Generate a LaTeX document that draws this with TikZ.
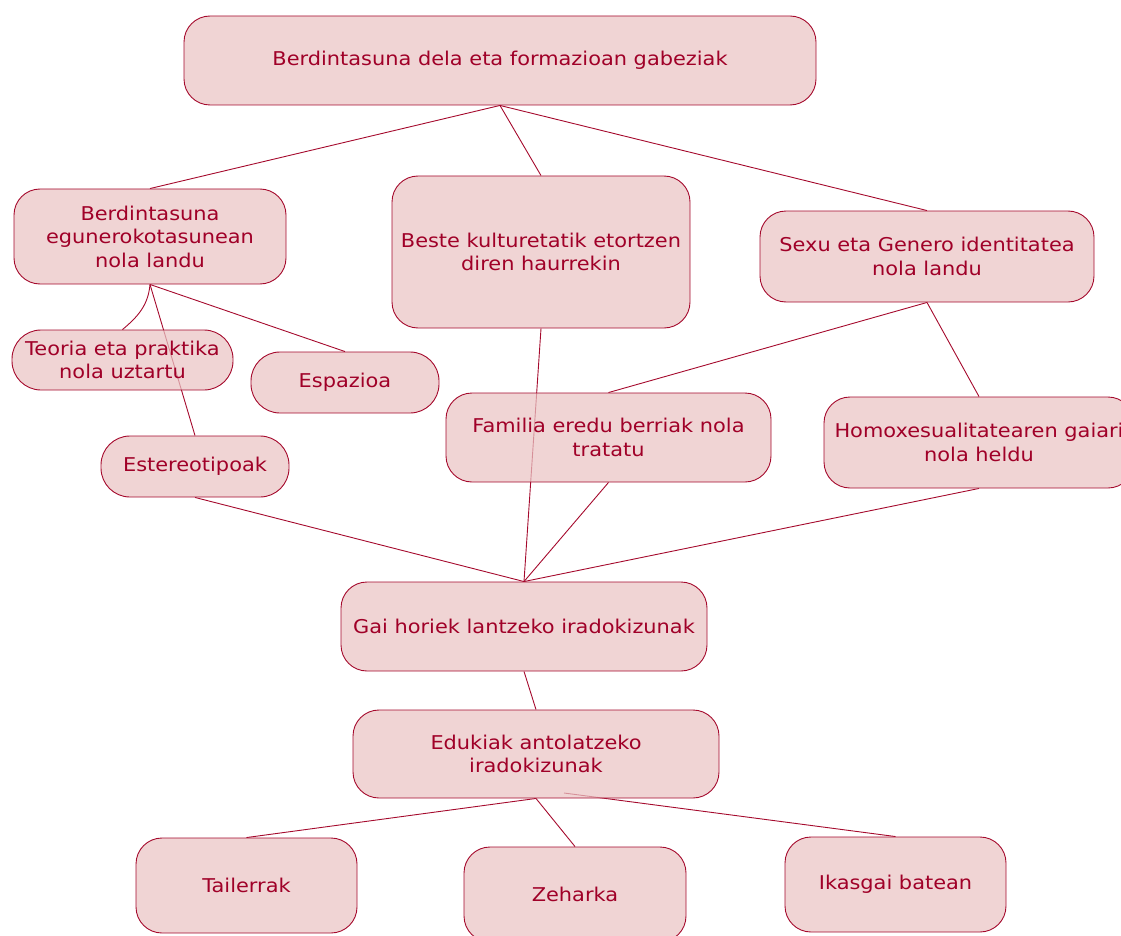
\documentclass[tikz,border=0pt]{standalone}
\usepackage{fontspec}
\setmainfont{DejaVu Sans}[FakeStretch=1.1]
\usetikzlibrary{backgrounds}
\definecolor{linec}{RGB}{165,10,45}
\definecolor{textc}{RGB}{160,0,40}
\definecolor{boxfill}{RGB}{234,196,195}
\tikzset{
  box/.style={draw=linec, line width=0.9pt, fill=boxfill, fill opacity=0.72, text opacity=1,
    rounded corners=26pt, text=textc, align=center, inner sep=0pt,
    font=\fontsize{19}{23.5}\selectfont},
  edge/.style={draw=linec, line width=0.9pt},
}
\begin{document}
\begin{tikzpicture}[x=1pt,y=1pt]
\useasboundingbox (0,0) rectangle (1121,-936);
\clip (0,0) rectangle (1121,-936);
\node[box, minimum width=632, minimum height=89] (top) at (500,-60.5) {Berdintasuna dela eta formazioan gabeziak};
\node[box, minimum width=272, minimum height=95] (berd) at (150,-236.5) {Berdintasuna\\egunerokotasunean\\nola landu};
\node[box, minimum width=298, minimum height=152] (beste) at (541,-252) {Beste kulturetatik etortzen\\diren haurrekin};
\node[box, minimum width=334, minimum height=91] (sexu) at (927,-256.5) {Sexu eta Genero identitatea\\nola landu};
\node[box, rounded corners=29pt, minimum width=221, minimum height=60] (teoria) at (122.5,-360) {Teoria eta praktika\\nola uztartu};
\node[box, rounded corners=29pt, minimum width=188, minimum height=61] (esp) at (345,-382.5) {Espazioa};
\node[box, rounded corners=29pt, minimum width=188, minimum height=61] (este) at (195,-466.5) {Estereotipoak};
\node[box, minimum width=325, minimum height=89] (fam) at (608.5,-437.5) {Familia eredu berriak nola\\tratatu};
\node[box, minimum width=310, minimum height=91] (homo) at (979,-442.5) {Homoxesualitatearen gaiari\\nola heldu};
\node[box, minimum width=366, minimum height=89] (gai) at (524,-626.5) {Gai horiek lantzeko iradokizunak};
\node[box, minimum width=366, minimum height=88] (edu) at (536,-754) {Edukiak antolatzeko\\iradokizunak};
\node[box, minimum width=221, minimum height=95] (tai) at (246.5,-885.5) {Tailerrak};
\node[box, minimum width=222, minimum height=95] (zeh) at (575,-894.5) {Zeharka};
\node[box, minimum width=221, minimum height=95] (ika) at (895.5,-884.5) {Ikasgai batean};
\coordinate (ik) at (564,-793);
\begin{scope}[on background layer]
\draw[edge] (top.south) -- (berd.north);
\draw[edge] (top.south) -- (beste.north);
\draw[edge] (top.south) -- (sexu.north);
\draw[edge] (berd.south) to[out=-95,in=40] (teoria.north);
\draw[edge] (berd.south) -- (esp.north);
\draw[edge] (berd.south) -- (este.north);
\draw[edge] (beste.south) -- (gai.north);
\draw[edge] (sexu.south) -- (fam.north);
\draw[edge] (sexu.south) -- (homo.north);
\draw[edge] (este.south) -- (gai.north);
\draw[edge] (fam.south) -- (gai.north);
\draw[edge] (homo.south) -- (gai.north);
\draw[edge] (gai.south) -- (edu.north);
\draw[edge] (edu.south) -- (tai.north);
\draw[edge] (edu.south) -- (zeh.north);
\draw[edge] (ik) -- (ika.north);
\end{scope}
\end{tikzpicture}
\end{document}
